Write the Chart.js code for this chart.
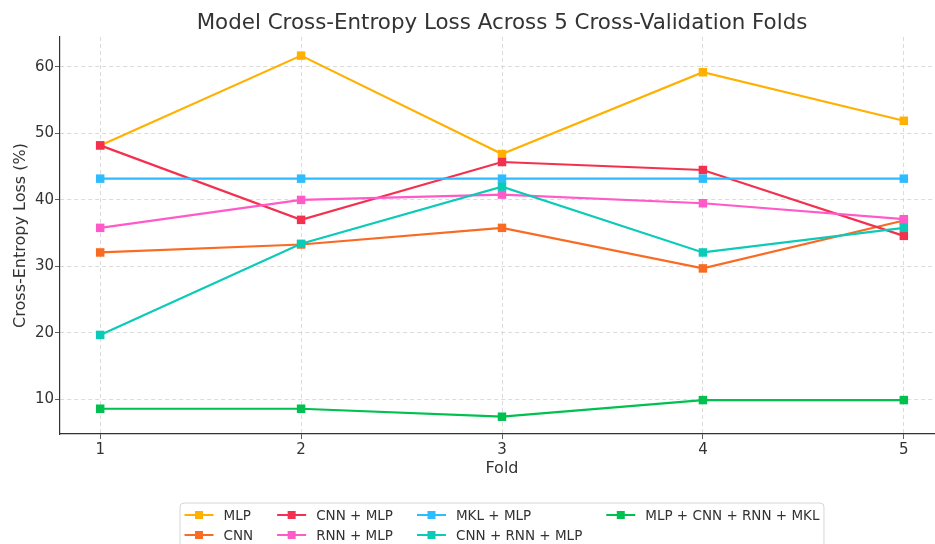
<!DOCTYPE html>
<html>
<head>
<meta charset="utf-8">
<script src="https://cdn.jsdelivr.net/npm/chart.js@4/dist/chart.umd.min.js"></script>
<style>
  html, body { margin: 0; padding: 0; background: #fff; overflow: hidden; }
  #wrap { width: 935px; height: 544px; overflow: hidden; }
</style>
</head>
<body>
<div id="wrap"><canvas id="grafico" width="1004" height="544"></canvas></div>
<script>
// dados
const folds = [1, 2, 3, 4, 5];
const yTicks = [10, 20, 30, 40, 50, 60];

const mlp       = [48.2, 61.7, 46.9, 59.2, 51.9];
const cnn       = [32.1, 33.3, 35.8, 29.7, 36.9];
const cnnMlp    = [48.2, 37.0, 45.7, 44.5, 34.6];
const rnnMlp    = [35.8, 40.0, 40.8, 39.5, 37.1];
const mklMlp    = [43.2, 43.2, 43.2, 43.2, 43.2];
const cnnRnnMlp = [19.7, 33.4, 42.0, 32.1, 35.8];
const todos     = [8.6, 8.6, 7.4, 9.9, 9.9];

const series = [
  { nome: 'MLP', valores: mlp, cor: '#FFB000' },
  { nome: 'CNN', valores: cnn, cor: '#F96A23' },
  { nome: 'CNN + MLP', valores: cnnMlp, cor: '#F4304F' },
  { nome: 'RNN + MLP', valores: rnnMlp, cor: '#FF5AC8' },
  { nome: 'MKL + MLP', valores: mklMlp, cor: '#2CBCFF' },
  { nome: 'CNN + RNN + MLP', valores: cnnRnnMlp, cor: '#0BCBB8' },
  { nome: 'MLP + CNN + RNN + MKL', valores: todos, cor: '#00C050' },
];

const TITULO = 'Model Cross-Entropy Loss Across 5 Cross-Validation Folds';
const FONTE = "'DejaVu Sans', sans-serif";
const TEXTO = '#333333';

// título centrado na área do gráfico (como no matplotlib)
const tituloMpl = {
  id: 'tituloMpl',
  afterDraw(chart) {
    const ctx = chart.ctx;
    const area = chart.chartArea;
    ctx.save();
    ctx.font = '21.4px ' + FONTE;
    ctx.fillStyle = TEXTO;
    ctx.textAlign = 'center';
    ctx.textBaseline = 'middle';
    ctx.fillText(TITULO, (area.left + area.right) / 2, area.top - 14);
    ctx.restore();
  }
};

// legenda no estilo matplotlib (4 colunas, preenchida por coluna)
const legendaMpl = {
  id: 'legendaMpl',
  afterDraw(chart) {
    const ctx = chart.ctx;
    const area = chart.chartArea;
    const nCols = 4, nLinhas = 2;
    const handle = 29, gapTexto = 10, gapCol = 24, padX = 4.5, alturaLinha = 20;
    ctx.save();
    ctx.font = '13.5px ' + FONTE;
    const itens = chart.data.datasets.map(ds => ({ label: ds.label, cor: ds.borderColor }));
    const larguras = [];
    for (let c = 0; c < nCols; c++) {
      let w = 0;
      for (let r = 0; r < nLinhas; r++) {
        const it = itens[c * nLinhas + r];
        if (it) w = Math.max(w, ctx.measureText(it.label).width);
      }
      larguras.push(handle + gapTexto + w);
    }
    const total = larguras.reduce((a, b) => a + b, 0) + gapCol * (nCols - 1) + padX * 2;
    const x0 = (area.left + area.right) / 2 - total / 2;
    const y0 = area.bottom + 69;

    // moldura
    ctx.beginPath();
    ctx.roundRect(x0, y0, total, alturaLinha * nLinhas + 10, 4);
    ctx.fillStyle = 'rgba(255,255,255,0.8)';
    ctx.fill();
    ctx.strokeStyle = '#d6d6d6';
    ctx.lineWidth = 1;
    ctx.stroke();

    let x = x0 + padX;
    for (let c = 0; c < nCols; c++) {
      for (let r = 0; r < nLinhas; r++) {
        const it = itens[c * nLinhas + r];
        if (!it) continue;
        const y = y0 + 12 + r * alturaLinha;
        ctx.strokeStyle = it.cor;
        ctx.lineWidth = 2;
        ctx.beginPath();
        ctx.moveTo(x, y);
        ctx.lineTo(x + handle, y);
        ctx.stroke();
        ctx.fillStyle = it.cor;
        ctx.fillRect(x + handle / 2 - 4, y - 4, 8, 8);
        ctx.fillStyle = TEXTO;
        ctx.textBaseline = 'middle';
        ctx.textAlign = 'left';
        ctx.fillText(it.label, x + handle + gapTexto, y + 1);
      }
      x += larguras[c] + gapCol;
    }
    ctx.restore();
  }
};

const datasets = series.map((s, i) => ({
  label: s.nome,
  data: s.valores.map((v, j) => ({ x: folds[j], y: v })),
  borderColor: s.cor,
  backgroundColor: s.cor,
  borderWidth: 2.2,
  pointStyle: 'rect',
  pointRadius: 6,
  pointBorderWidth: 0,
  pointHoverRadius: 6,
  tension: 0,
  order: -i
}));

const ctx = document.getElementById('grafico').getContext('2d');

new Chart(ctx, {
  type: 'line',
  data: { datasets: datasets },
  plugins: [tituloMpl, legendaMpl],
  options: {
    responsive: false,
    animation: false,
    layout: { padding: { left: 0, right: 60, top: 37, bottom: 60 } },
    plugins: {
      legend: { display: false },
      tooltip: { enabled: false },
      title: { display: false }
    },
    scales: {
      x: {
        type: 'linear',
        min: 0.8,
        max: 5.2,
        afterBuildTicks: scale => { scale.ticks = folds.map(v => ({ value: v })); },
        afterFit: scale => { scale.height = 50; },
        ticks: { color: TEXTO, font: { family: FONTE, size: 15 }, padding: 2 },
        grid: { color: '#d2d2d2', lineWidth: 0.8, tickColor: '#333', tickLength: 5, tickBorderDash: [] },
        border: { display: true, color: '#333', width: 1.2, dash: [4, 3] },
        title: {
          display: true,
          text: 'Fold',
          color: TEXTO,
          font: { family: FONTE, size: 16 },
          padding: { top: 2, bottom: 6 }
        }
      },
      y: {
        min: 4.8,
        max: 64.5,
        afterBuildTicks: scale => { scale.ticks = yTicks.map(v => ({ value: v })); },
        afterFit: scale => { scale.width = 60; },
        ticks: { color: TEXTO, font: { family: FONTE, size: 15 }, padding: 1 },
        grid: { color: '#d2d2d2', lineWidth: 0.8, tickColor: '#333', tickLength: 5, tickBorderDash: [] },
        border: { display: true, color: '#333', width: 1.2, dash: [4, 3] },
        title: {
          display: true,
          text: 'Cross-Entropy Loss (%)',
          color: TEXTO,
          font: { family: FONTE, size: 16 },
          padding: { top: 11, bottom: 4 }
        }
      }
    }
  }
});
</script>
</body>
</html>
